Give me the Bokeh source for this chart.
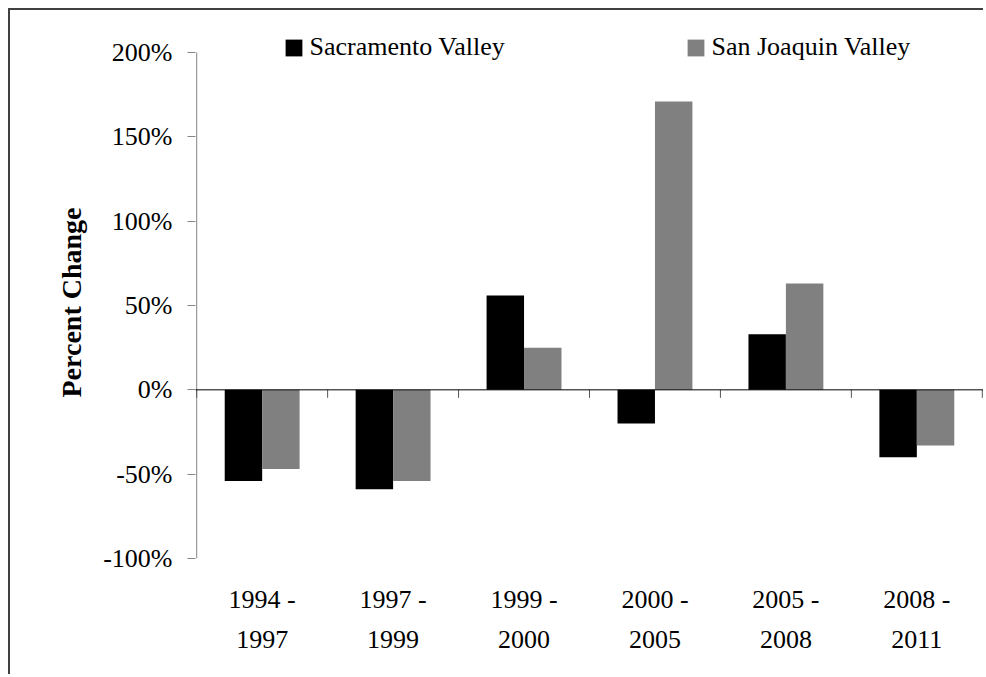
from bokeh.plotting import figure
from bokeh.models import (Range1d, LinearAxis, FixedTicker, Legend, LegendItem, Span, Title)
from bokeh.embed import file_html
from bokeh.resources import INLINE

# ---- data ----
periods = ["1994 - 1997", "1997 - 1999", "1999 - 2000", "2000 - 2005", "2005 - 2008", "2008 - 2011"]
sacramento = [-54, -59, 56, -20, 33, -40]
san_joaquin = [-47, -54, 25, 171, 63, -33]
y_ticks = [-100, -50, 0, 50, 100, 150, 200]
series_names = ["Sacramento Valley", "San Joaquin Valley"]
series_colors = ["#000000", "#808080"]
y_title = "Percent Change"

FONT = "Liberation Serif"
n = len(periods)
centers = [i + 0.5 for i in range(n)]
bounds = list(range(n + 1))
bar_w = 0.286

# geometry (pixels)
W, H = 975, 666
frame_top_px, axis_top_px, frame_bottom_px = 12, 42, 118   # relative to canvas
plot_h = H - frame_top_px - frame_bottom_px
axis_span_px = plot_h - (axis_top_px - frame_top_px)
y_lo, y_hi = y_ticks[0], y_ticks[-1]
ppu = axis_span_px / (y_hi - y_lo)
y_end = y_hi + (axis_top_px - frame_top_px) / ppu
x_pad = 1.2 / ((W - 185 - 2) / n)
tick_len = 8 / ppu

p = figure(width=W, height=H, output_backend="svg", toolbar_location=None,
           x_range=Range1d(-x_pad, n + x_pad), y_range=Range1d(y_lo, y_end),
           x_axis_location=None, y_axis_location=None,
           min_border_left=185, min_border_right=2,
           min_border_top=frame_top_px, min_border_bottom=frame_bottom_px)
p.styles = {"margin-left": "8px", "margin-top": "8px",
            "border-top": "2px solid #404040", "border-left": "2px solid #404040"}
p.outline_line_color = None
p.xgrid.grid_line_color = None
p.ygrid.grid_line_color = None
p.background_fill_color = "white"
p.border_fill_color = "white"

# bars
r1 = p.vbar(x=[c - bar_w / 2 for c in centers], top=sacramento, bottom=0, width=bar_w,
            fill_color=series_colors[0], line_color=None)
r2 = p.vbar(x=[c + bar_w / 2 for c in centers], top=san_joaquin, bottom=0, width=bar_w,
            fill_color=series_colors[1], line_color=None)

# y axis line (only between -100% and 200%)
p.segment(x0=[0], y0=[y_lo], x1=[0], y1=[y_hi], line_color="#868686", line_width=1)

# zero line and category boundary ticks
p.add_layout(Span(location=0, dimension="width", line_color="black", line_width=1))
p.segment(x0=bounds, y0=[0] * len(bounds), x1=bounds, y1=[-tick_len] * len(bounds),
          line_color="#555555", line_width=1)

# y axis
yaxis = LinearAxis(ticker=FixedTicker(ticks=y_ticks),
                   major_label_overrides={v: f"{v}%" for v in y_ticks})
yaxis.axis_line_color = None
yaxis.major_tick_line_color = "#868686"
yaxis.major_tick_out = 8
yaxis.major_tick_in = 0
yaxis.minor_tick_line_color = None
yaxis.major_label_standoff = 15
yaxis.major_label_text_font = FONT
yaxis.major_label_text_font_size = "26px"
yaxis.major_label_text_color = "black"
p.add_layout(yaxis, "left")

# y title, centred on the -100%..200% axis span
ytitle = Title(text=y_title, align="left", offset=161, standoff=28,
               text_font=FONT, text_font_style="bold", text_font_size="28px",
               text_color="black")
p.add_layout(ytitle, "left")

# category labels, two lines
line1 = [s.split(" - ")[0] + " -" for s in periods]
line2 = [s.split(" - ")[1] for s in periods]

def label_axis(labels, standoff):
    ax = LinearAxis(ticker=FixedTicker(ticks=centers),
                    major_label_overrides={c: l for c, l in zip(centers, labels)})
    ax.axis_line_color = None
    ax.major_tick_line_color = None
    ax.minor_tick_line_color = None
    ax.major_tick_out = 0
    ax.major_tick_in = 0
    ax.major_label_standoff = standoff
    ax.major_label_text_font = FONT
    ax.major_label_text_font_size = "26px"
    ax.major_label_text_color = "black"
    return ax

p.add_layout(label_axis(line1, 26), "below")
p.add_layout(label_axis(line2, 14), "below")

# legends
for r, name, lx in [(r1, series_names[0], 87.5), (r2, series_names[1], 489.5)]:
    lg = Legend(items=[LegendItem(label=name, renderers=[r])], location=(lx, 496))
    lg.glyph_width = 21
    lg.glyph_height = 21
    lg.label_standoff = 6
    lg.label_text_font = FONT
    lg.label_text_font_size = "26px"
    lg.label_text_color = "black"
    lg.padding = 0
    lg.margin = 0
    lg.border_line_color = None
    lg.background_fill_alpha = 0
    p.add_layout(lg, "center")

open("out.html", "w").write(file_html(p, INLINE))
